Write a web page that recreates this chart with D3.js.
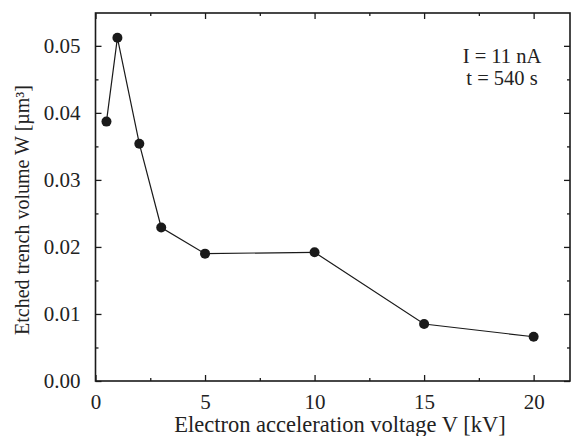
<!DOCTYPE html>
<html><head><meta charset="utf-8">
<script src="https://cdn.jsdelivr.net/npm/d3@7"></script>
<style>body{margin:0;background:#fff}svg text{font-family:"Liberation Serif","DejaVu Serif",serif !important;fill:#222}</style>
</head><body><svg id="c" width="571" height="436" font-family="Liberation Serif, serif"></svg>
<script>
const voltage = [0.5, 1, 2, 3, 5, 10, 15, 20];
const volume = [0.0387, 0.0512, 0.0354, 0.0229, 0.0190, 0.0192, 0.0085, 0.0066];
const xTicks = [0, 5, 10, 15, 20];
const yTicks = [0, 0.01, 0.02, 0.03, 0.04, 0.05];
const xMinor = [2.5, 7.5, 12.5, 17.5];
const yMinor = [0.005, 0.015, 0.025, 0.035, 0.045];
const notes = ["I = 11 nA", "t = 540 s"];

const svg = d3.select("#c");
const L = 95.5, R = 570, T = 13, B = 381;
const x = d3.scaleLinear().domain([0, 21.66]).range([L, R]);
const y = d3.scaleLinear().domain([0, 0.0549]).range([B, T]);
const col = "#1a1a1a";
const FF = "Liberation Serif, DejaVu Serif, serif";

function ax(g, axis) {
  g.call(axis);
  g.attr("font-family", FF).attr("font-size", 21);
  g.select(".domain").remove();
  g.selectAll("line").attr("stroke", col).attr("stroke-width", 1.3);
  g.selectAll("text").attr("fill", "#222");
}

// bottom
svg.append("g").attr("transform", `translate(0,${B})`).call(g => ax(g, d3.axisBottom(x).tickValues(xTicks).tickSizeInner(-6).tickSizeOuter(0).tickPadding(13).tickFormat(d3.format("d"))));
svg.append("g").attr("transform", `translate(0,${B})`).call(g => ax(g, d3.axisBottom(x).tickValues(xMinor).tickSizeInner(-3).tickFormat("")));
// top
svg.append("g").attr("transform", `translate(0,${T})`).call(g => ax(g, d3.axisTop(x).tickValues(xTicks).tickSizeInner(-6).tickFormat("")));
svg.append("g").attr("transform", `translate(0,${T})`).call(g => ax(g, d3.axisTop(x).tickValues(xMinor).tickSizeInner(-3).tickFormat("")));
// left
svg.append("g").attr("transform", `translate(${L},0)`).call(g => ax(g, d3.axisLeft(y).tickValues(yTicks).tickSizeInner(-6).tickPadding(15).tickFormat(d3.format(".2f"))));
svg.append("g").attr("transform", `translate(${L},0)`).call(g => ax(g, d3.axisLeft(y).tickValues(yMinor).tickSizeInner(-3).tickFormat("")));
// right
svg.append("g").attr("transform", `translate(${R},0)`).call(g => ax(g, d3.axisRight(y).tickValues(yTicks).tickSizeInner(-6).tickFormat("")));
svg.append("g").attr("transform", `translate(${R},0)`).call(g => ax(g, d3.axisRight(y).tickValues(yMinor).tickSizeInner(-3).tickFormat("")));

// frame
svg.append("rect").attr("x", L).attr("y", T).attr("width", R - L).attr("height", B - T)
  .attr("fill", "none").attr("stroke", col).attr("stroke-width", 1.6);

// data line
const pts = voltage.map((v, i) => [v, volume[i]]);
svg.append("path").datum(pts).attr("fill", "none").attr("stroke", col).attr("stroke-width", 1.2)
  .attr("d", d3.line().x(d => x(d[0])).y(d => y(d[1])));
svg.selectAll("circle.pt").data(pts).join("circle").attr("class", "pt")
  .attr("cx", d => x(d[0])).attr("cy", d => y(d[1])).attr("r", 5).attr("fill", col);

// annotations
svg.selectAll("text.note").data(notes).join("text").attr("class", "note")
  .attr("x", 502).attr("y", (d, i) => 63 + i * 21.5).attr("text-anchor", "middle")
  .attr("font-family", FF).attr("font-size", 20.5).text(d => d);

// axis titles
svg.append("text").attr("x", 340).attr("y", 432).attr("text-anchor", "middle")
  .attr("font-family", FF).attr("font-size", 22.5)
  .text("Electron acceleration voltage V [kV]");
svg.append("text").attr("transform", "translate(29,210) rotate(-90)").attr("text-anchor", "middle")
  .attr("font-family", FF).attr("font-size", 20)
  .text("Etched trench volume W [µm³]");
</script></body></html>
